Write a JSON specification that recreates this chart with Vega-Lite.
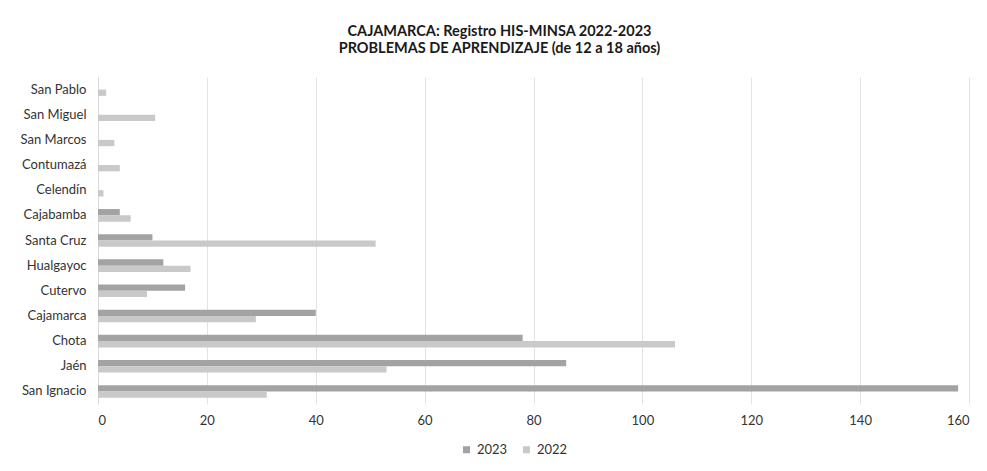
{
  "$schema": "https://vega.github.io/schema/vega-lite/v6.json",
  "width": 871,
  "height": 327,
  "autosize": {"type": "none"},
  "padding": {"left": 98, "top": 77, "right": 18, "bottom": 67},
  "background": "white",
  "title": {
    "text": ["CAJAMARCA: Registro HIS-MINSA 2022-2023", "PROBLEMAS DE APRENDIZAJE (de 12 a 18 años)"],
    "font": "Lato",
    "fontSize": 14.5,
    "fontWeight": "bold",
    "color": "#1a1a1a",
    "anchor": "middle",
    "dx": -34,
    "offset": 21,
    "lineHeight": 17
  },
  "data": {
    "values": [
      {"provincia": "San Pablo", "anio": "2023", "casos": 0},
      {"provincia": "San Pablo", "anio": "2022", "casos": 1.5},
      {"provincia": "San Miguel", "anio": "2023", "casos": 0},
      {"provincia": "San Miguel", "anio": "2022", "casos": 10.5},
      {"provincia": "San Marcos", "anio": "2023", "casos": 0},
      {"provincia": "San Marcos", "anio": "2022", "casos": 3},
      {"provincia": "Contumazá", "anio": "2023", "casos": 0},
      {"provincia": "Contumazá", "anio": "2022", "casos": 4},
      {"provincia": "Celendín", "anio": "2023", "casos": 0},
      {"provincia": "Celendín", "anio": "2022", "casos": 1},
      {"provincia": "Cajabamba", "anio": "2023", "casos": 4},
      {"provincia": "Cajabamba", "anio": "2022", "casos": 6},
      {"provincia": "Santa Cruz", "anio": "2023", "casos": 10},
      {"provincia": "Santa Cruz", "anio": "2022", "casos": 51},
      {"provincia": "Hualgayoc", "anio": "2023", "casos": 12},
      {"provincia": "Hualgayoc", "anio": "2022", "casos": 17},
      {"provincia": "Cutervo", "anio": "2023", "casos": 16},
      {"provincia": "Cutervo", "anio": "2022", "casos": 9},
      {"provincia": "Cajamarca", "anio": "2023", "casos": 40},
      {"provincia": "Cajamarca", "anio": "2022", "casos": 29},
      {"provincia": "Chota", "anio": "2023", "casos": 78},
      {"provincia": "Chota", "anio": "2022", "casos": 106},
      {"provincia": "Jaén", "anio": "2023", "casos": 86},
      {"provincia": "Jaén", "anio": "2022", "casos": 53},
      {"provincia": "San Ignacio", "anio": "2023", "casos": 158},
      {"provincia": "San Ignacio", "anio": "2022", "casos": 31}
    ]
  },
  "mark": {"type": "bar"},
  "encoding": {
    "y": {
      "field": "provincia",
      "type": "nominal",
      "sort": ["San Pablo", "San Miguel", "San Marcos", "Contumazá", "Celendín", "Cajabamba", "Santa Cruz", "Hualgayoc", "Cutervo", "Cajamarca", "Chota", "Jaén", "San Ignacio"],
      "scale": {"paddingInner": 0.5, "paddingOuter": 0.25},
      "axis": {
        "title": null,
        "ticks": false,
        "domain": true,
        "domainColor": "#d9d9d9",
        "labelFont": "Lato",
        "labelFontSize": 13,
        "labelColor": "#333333",
        "labelPadding": 12
      }
    },
    "yOffset": {"field": "anio", "type": "nominal", "sort": ["2023", "2022"]},
    "x": {
      "field": "casos",
      "type": "quantitative",
      "scale": {"domain": [0, 160], "nice": false},
      "axis": {
        "title": null,
        "values": [0, 20, 40, 60, 80, 100, 120, 140, 160],
        "ticks": false,
        "domain": false,
        "grid": true,
        "gridColor": "#e3e3e3",
        "labelFont": "Lato",
        "labelFontSize": 13,
        "labelColor": "#333333",
        "labelPadding": 10
      }
    },
    "color": {
      "field": "anio",
      "type": "nominal",
      "sort": ["2023", "2022"],
      "scale": {"domain": ["2023", "2022"], "range": ["#a3a3a3", "#c9c9c9"]},
      "legend": {
        "title": null,
        "orient": "none",
        "direction": "horizontal",
        "legendX": 362,
        "legendY": 366,
        "symbolType": "square",
        "symbolSize": 50,
        "labelFont": "Lato",
        "labelFontSize": 13,
        "labelColor": "#333333",
        "columnPadding": 12
      }
    }
  },
  "config": {"view": {"stroke": null}}
}
